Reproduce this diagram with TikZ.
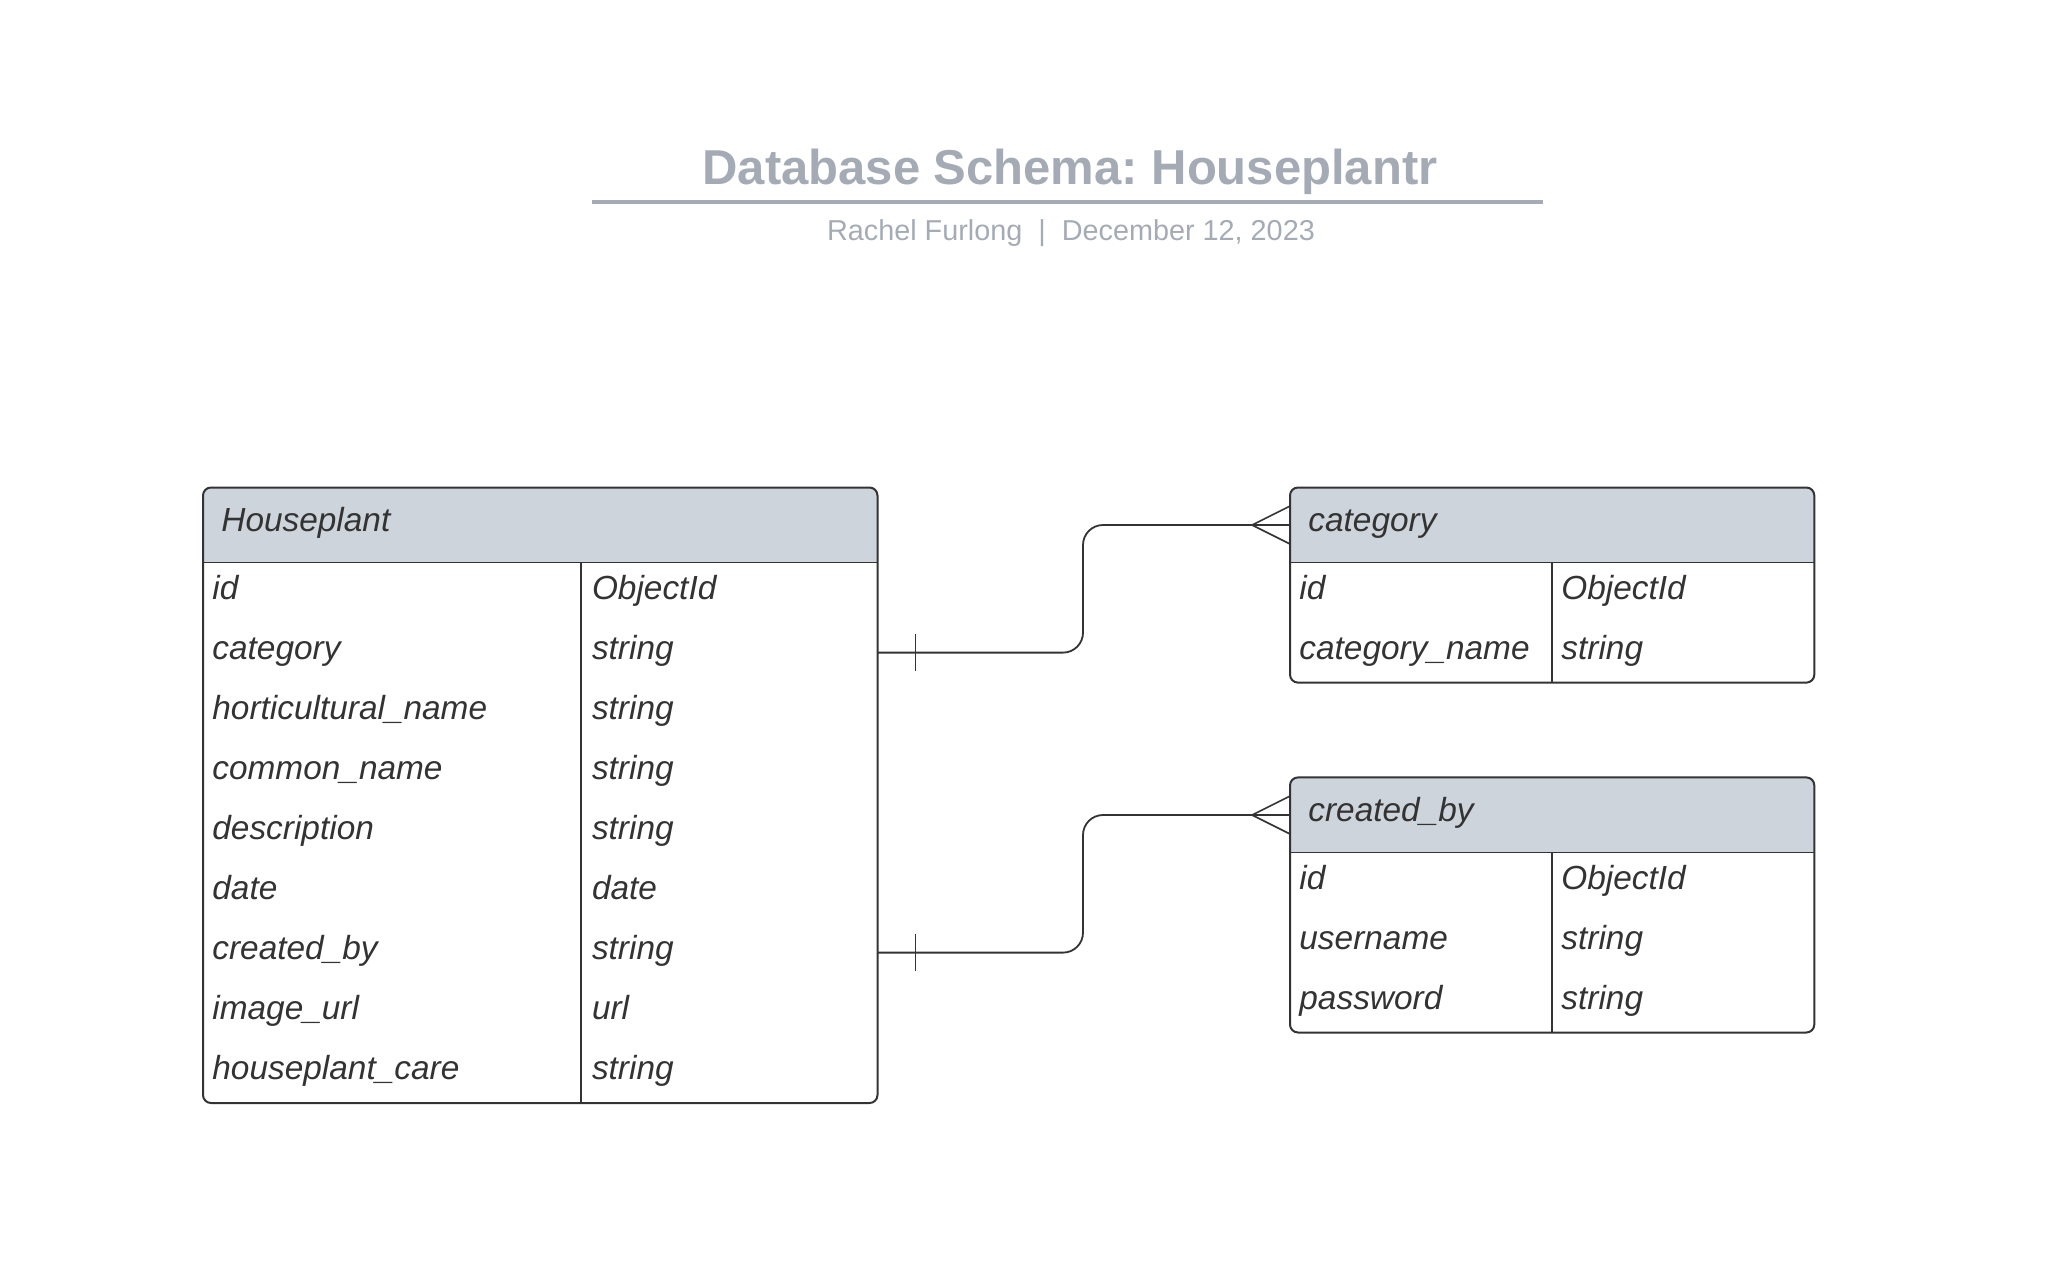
\documentclass[tikz,border=0pt]{standalone}
\usepackage{fontspec}
\setmainfont{Liberation Sans}
\frenchspacing

\definecolor{titlegray}{HTML}{A5ABB5}
\definecolor{headfill}{HTML}{CED4DB}
\definecolor{ink}{HTML}{333333}

\tikzset{
  field/.style={anchor=base west, inner sep=0pt, text=ink, font=\fontsize{16.7}{20}\selectfont\itshape},
  title/.style={anchor=base, inner sep=0pt, text=titlegray, font=\fontsize{24.5}{28}\selectfont\bfseries},
  subtitle/.style={anchor=base, inner sep=0pt, text=titlegray, font=\fontsize{14.4}{17}\selectfont},
  tableline/.style={draw=ink, line width=1pt, rounded corners=4pt},
  colline/.style={draw=ink, line width=0.6pt},
  link/.style={draw=ink, line width=0.9pt, rounded corners=10pt},
  onebar/.style={draw=ink, line width=0.8pt},
  crowfoot/.style={draw=ink, line width=0.8pt},
}

\begin{document}
\begin{tikzpicture}[x=0.5pt,y=-0.5pt]
\useasboundingbox (0,0) rectangle (2066,1271);

% title
\node[title] (title) at (1070,184) {Database Schema: Houseplantr};
\draw[titlegray, line width=2pt] (591.6,201.6) -- (1543,201.6);
\node[subtitle] (byline) at (1071,240) {Rachel Furlong\ \ |\ \ December 12, 2023};

% Houseplant
\begin{scope}
  \clip (203,487.5) rectangle (877.5,562.6);
  \fill[headfill, rounded corners=4pt] (203,487.5) rectangle (877.5,1103);
\end{scope}
\draw[tableline] (203,487.5) rectangle (877.5,1103);
\draw[colline] (203,562.6) -- (877.5,562.6);
\draw[colline] (581,562.6) -- (581,1103);
\node[field] (hp) at (221,531) {Houseplant};
\foreach \k/\v [count=\i] in {id/ObjectId, category/string, horticultural\_name/string,
    common\_name/string, description/string, date/date, created\_by/string,
    image\_url/url, houseplant\_care/string} {
  \node[field] (hp-k\i) at (212,{599.5+60*(\i-1)}) {\k};
  \node[field] (hp-v\i) at (591.6,{599.5+60*(\i-1)}) {\v};
}

% category
\begin{scope}
  \clip (1290,487.5) rectangle (1814.3,562.6);
  \fill[headfill, rounded corners=4pt] (1290,487.5) rectangle (1814.3,682.6);
\end{scope}
\draw[tableline] (1290,487.5) rectangle (1814.3,682.6);
\draw[colline] (1290,562.6) -- (1814.3,562.6);
\draw[colline] (1552,562.6) -- (1552,682.6);
\node[field] (cat) at (1308,531) {category};
\foreach \k/\v [count=\i] in {id/ObjectId, category\_name/string} {
  \node[field] (cat-k\i) at (1299,{599.5+60*(\i-1)}) {\k};
  \node[field] (cat-v\i) at (1561,{599.5+60*(\i-1)}) {\v};
}

% created_by
\begin{scope}
  \clip (1290,777.4) rectangle (1814.3,852.5);
  \fill[headfill, rounded corners=4pt] (1290,777.4) rectangle (1814.3,1032.5);
\end{scope}
\draw[tableline] (1290,777.4) rectangle (1814.3,1032.5);
\draw[colline] (1290,852.5) -- (1814.3,852.5);
\draw[colline] (1552,852.5) -- (1552,1032.5);
\node[field] (cb) at (1308,821) {created\_by};
\foreach \k/\v [count=\i] in {id/ObjectId, username/string, password/string} {
  \node[field] (cb-k\i) at (1299,{889.5+60*(\i-1)}) {\k};
  \node[field] (cb-v\i) at (1561,{889.5+60*(\i-1)}) {\v};
}

% relations
\coordinate (hp-out1) at (877.5,652.6);
\coordinate (cat-in) at (1290,525);
\coordinate (hp-out2) at (877.5,952.6);
\coordinate (cb-in) at (1290,815);

\draw[link] (hp-out1) -- ++(205.5,0) |- (cat-in);
\draw[onebar] (hp-out1) ++(38,-18.5) -- ++(0,37);
\draw[crowfoot] (cat-in) ++(0,-19) -- ++(-38,19) -- ++(38,19);

\draw[link] (hp-out2) -- ++(205.5,0) |- (cb-in);
\draw[onebar] (hp-out2) ++(38,-18.5) -- ++(0,37);
\draw[crowfoot] (cb-in) ++(0,-19) -- ++(-38,19) -- ++(38,19);
\end{tikzpicture}
\end{document}
